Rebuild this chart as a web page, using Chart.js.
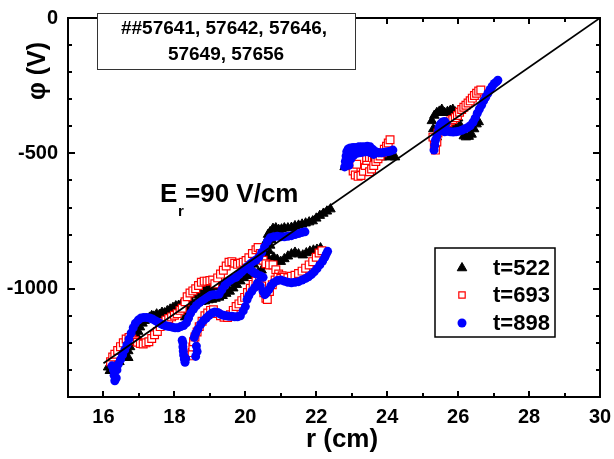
<!DOCTYPE html>
<html>
<head>
<meta charset="utf-8">
<script src="https://cdn.jsdelivr.net/npm/chart.js@4.4.1/dist/chart.umd.min.js"></script>
<style>
  html, body { margin: 0; padding: 0; background: #fff; }
  #wrap { width: 614px; height: 459px; }
</style>
</head>
<body>
<div id="wrap"><canvas id="chart" width="614" height="459"></canvas></div>
<script>
// r (cm) and phi (V)
const r522 = [
  16.13, 16.18, 16.25, 16.32, 16.40, 16.48, 16.55, 16.62, 16.70, 16.75,
  16.80, 16.86, 16.92, 16.98, 17.03, 17.10, 17.16, 17.22, 17.30, 17.36,
  17.42, 17.50, 17.58, 17.65, 17.72, 17.80, 17.88, 17.96, 18.04, 18.12,
  18.20, 18.28, 18.36, 18.44, 18.52, 18.60, 18.68, 18.76, 18.84, 18.92,
  19.00, 19.10, 19.20, 19.30, 19.40, 19.50, 19.60, 19.70, 19.80, 19.90,
  20.00, 20.08, 20.16, 20.24, 20.32, 20.40, 20.48, 20.55, 20.60, 20.64,
  20.70, 20.78, 20.86, 20.94, 21.02, 21.10, 21.20, 21.30, 21.40, 21.50,
  21.60, 21.70, 21.80, 21.90, 22.00, 22.10, 22.20, 22.30, 22.40, 20.58,
  20.62, 20.66, 20.70, 20.74, 20.66, 20.80, 20.90, 21.00, 21.10, 21.20,
  21.30, 21.40, 21.50, 21.62, 21.72, 21.82, 21.92, 22.02, 22.12, 18.30,
  18.38, 18.46, 18.56, 18.66, 18.76, 18.86, 18.96, 19.06, 19.16, 19.26,
  19.36, 19.46, 19.56, 19.66, 19.76, 19.86, 19.96, 20.06, 20.16, 20.26,
  20.36, 20.46, 16.45, 16.60, 16.70, 22.80, 22.86, 23.30, 23.37, 23.45,
  23.55, 23.65, 23.75, 23.85, 23.95, 24.05, 24.15, 24.22, 25.26, 25.30,
  25.33, 25.40, 25.47, 25.54, 25.62, 25.70, 25.78, 25.85, 25.92, 26.00,
  26.05, 26.10, 26.16, 26.22, 26.30, 26.38, 26.45, 26.52, 26.58, 25.50,
  25.70, 25.90, 25.40, 25.60
];
const phi522 = [
  -1290, -1303, -1280, -1262, -1250, -1240, -1236, -1222, -1230, -1215,
  -1200, -1190, -1170, -1158, -1142, -1128, -1118, -1112, -1106, -1100,
  -1102, -1094, -1096, -1088, -1090, -1082, -1076, -1070, -1064, -1062,
  -1056, -1058, -1050, -1040, -1024, -1018, -1012, -1008, -1005, -1002,
  -998, -994, -990, -986, -982, -978, -972, -966, -960, -952,
  -944, -935, -922, -910, -898, -886, -866, -845, -822, -800,
  -790, -778, -776, -782, -780, -776, -776, -774, -768, -766,
  -762, -758, -754, -750, -740, -730, -722, -714, -706, -900,
  -880, -860, -840, -820, -915, -884, -892, -900, -890, -880,
  -872, -866, -872, -876, -868, -862, -858, -855, -850, -1105,
  -1085, -1068, -1060, -1052, -1048, -1046, -1042, -1040, -1036, -1032,
  -1026, -1018, -1010, -998, -985, -972, -960, -952, -948, -944,
  -940, -932, -1270, -1255, -1255, -550, -545, -530, -528, -548,
  -530, -518, -512, -514, -512, -514, -512, -514, -380, -410,
  -360, -350, -345, -338, -350, -346, -342, -338, -348, -370,
  -395, -420, -436, -440, -438, -430, -410, -392, -384, -400,
  -395, -400, -440, -420
];

const r693 = [
  16.20, 16.26, 16.32, 16.40, 16.48, 16.56, 16.64, 16.72, 16.80, 16.88,
  16.96, 17.04, 17.12, 17.20, 17.28, 17.36, 17.44, 17.52, 17.60, 17.68,
  17.76, 17.84, 17.92, 18.00, 18.08, 18.16, 18.22, 18.30, 18.36, 18.44,
  18.52, 18.60, 18.68, 18.76, 18.84, 18.92, 19.00, 19.08, 19.14, 19.22,
  19.30, 19.38, 19.46, 19.54, 19.62, 19.70, 19.78, 19.86, 19.94, 20.02,
  20.10, 20.20, 20.30, 20.36, 20.42, 20.50, 20.58, 20.68, 20.78, 20.86,
  20.94, 21.04, 18.44, 18.50, 18.52, 18.54, 18.58, 18.64, 18.70, 18.78,
  18.86, 18.94, 19.02, 19.10, 19.20, 19.30, 19.40, 19.50, 19.58, 19.66,
  19.74, 19.82, 19.90, 19.98, 20.06, 20.14, 20.22, 20.30, 20.40, 20.46,
  20.52, 20.58, 20.62, 20.68, 20.76, 20.84, 20.92, 21.00, 21.10, 21.20,
  21.30, 21.40, 21.50, 21.60, 21.70, 21.80, 21.90, 22.00, 22.08, 22.16,
  22.98, 23.00, 23.04, 23.10, 23.18, 23.26, 23.33, 23.38, 23.42, 23.36,
  23.28, 23.20, 23.14, 23.50, 23.56, 23.62, 23.68, 23.74, 23.80, 23.86,
  23.92, 23.98, 24.03, 24.08, 25.29, 25.33, 25.36, 25.40, 25.43, 25.50,
  25.57, 25.64, 25.71, 25.78, 25.85, 25.92, 25.98, 26.04, 26.10, 26.16,
  26.22, 26.28, 26.34, 26.40, 26.46, 26.52, 26.58, 26.64
];
const phi693 = [
  -1270, -1252, -1242, -1228, -1214, -1200, -1186, -1180, -1186, -1192,
  -1198, -1202, -1204, -1200, -1196, -1184, -1170, -1158, -1140, -1126,
  -1116, -1110, -1104, -1098, -1092, -1080, -1072, -1048, -1030, -1016,
  -1008, -1000, -988, -976, -972, -972, -970, -968, -982, -960,
  -946, -932, -916, -902, -900, -906, -910, -906, -902, -896,
  -886, -870, -856, -848, -870, -895, -908, -912, -912, -930,
  -946, -952, -1248, -1236, -1215, -1196, -1178, -1160, -1140, -1120,
  -1100, -1090, -1080, -1078, -1092, -1100, -1105, -1106, -1096, -1080,
  -1066, -1056, -1044, -1032, -1014, -998, -984, -972, -958, -990,
  -1015, -1035, -1040, -1010, -985, -968, -958, -962, -958, -960,
  -954, -950, -944, -935, -924, -912, -900, -884, -868, -860,
  -520, -545, -565, -580, -585, -582, -566, -545, -526, -515,
  -515, -524, -540, -568, -558, -545, -530, -520, -510, -498,
  -485, -474, -462, -450, -440, -470, -488, -458, -425, -410,
  -400, -393, -386, -380, -375, -368, -360, -348, -338, -330,
  -322, -314, -306, -296, -286, -278, -270, -266
];

const r898 = [
  16.24, 16.28, 16.30, 16.32, 16.36, 16.38, 16.42, 16.48, 16.54, 16.60,
  16.66, 16.72, 16.78, 16.84, 16.90, 16.98, 17.06, 17.14, 17.22, 17.30,
  17.38, 17.46, 17.54, 17.62, 17.70, 17.78, 17.86, 17.94, 18.02, 18.10,
  18.18, 18.26, 18.34, 18.40, 18.46, 18.54, 18.62, 18.70, 18.78, 18.86,
  18.94, 19.02, 19.10, 19.18, 19.26, 19.34, 19.42, 19.50, 19.58, 19.66,
  19.74, 19.82, 19.90, 19.98, 20.06, 20.14, 20.22, 20.30, 20.38, 20.46,
  20.54, 20.62, 20.70, 20.80, 20.90, 21.00, 21.10, 21.20, 21.30, 21.40,
  21.50, 21.60, 21.68, 18.24, 18.24, 18.25, 18.26, 18.28, 18.30, 18.32,
  18.22, 18.60, 18.64, 18.62, 18.56, 18.60, 18.66, 18.74, 18.82, 18.90,
  18.98, 19.06, 19.14, 19.22, 19.30, 19.38, 19.46, 19.54, 19.62, 19.70,
  19.78, 19.86, 19.94, 20.00, 20.05, 20.10, 20.18, 20.26, 20.34, 20.42,
  20.50, 20.55, 20.60, 20.66, 20.72, 20.80, 20.90, 21.00, 21.10, 21.20,
  21.30, 21.40, 21.50, 21.60, 21.70, 21.78, 21.86, 21.94, 22.02, 22.10,
  22.18, 22.24, 22.28, 22.32, 20.16, 20.24, 20.32, 20.42, 20.50, 22.80,
  22.82, 22.84, 22.86, 22.90, 22.96, 23.04, 23.12, 23.20, 23.28, 23.36,
  23.44, 23.52, 23.60, 23.68, 23.76, 23.84, 23.92, 24.00, 24.08, 24.16,
  22.90, 22.98, 23.06, 23.14, 23.22, 23.30, 23.38, 23.46, 23.54, 23.62,
  22.92, 25.32, 25.34, 25.36, 25.40, 25.44, 25.46, 25.50, 25.56, 25.62,
  25.66, 25.60, 25.56, 25.62, 25.70, 25.78, 25.86, 25.94, 26.02, 26.10,
  26.18, 26.26, 26.34, 26.42, 26.48, 26.54, 26.60, 26.66, 26.72, 26.78,
  26.84, 26.90, 26.96, 27.02, 27.08, 27.12
];
const phi898 = [
  -1285, -1300, -1320, -1340, -1330, -1300, -1278, -1262, -1244, -1226,
  -1208, -1186, -1164, -1144, -1128, -1116, -1108, -1106, -1106, -1108,
  -1112, -1118, -1124, -1130, -1134, -1138, -1140, -1142, -1144, -1144,
  -1140, -1136, -1126, -1108, -1090, -1075, -1062, -1052, -1044, -1036,
  -1030, -1024, -1022, -1022, -1020, -1004, -988, -976, -968, -962,
  -958, -948, -938, -928, -918, -908, -900, -894, -884, -866,
  -846, -826, -812, -808, -806, -808, -808, -806, -804, -800,
  -796, -792, -790, -1200, -1215, -1230, -1245, -1260, -1272, -1258,
  -1190, -1250, -1232, -1212, -1180, -1165, -1150, -1132, -1118, -1108,
  -1098, -1090, -1086, -1088, -1094, -1098, -1100, -1102, -1102, -1104,
  -1104, -1100, -1082, -1066, -1040, -1025, -1010, -996, -980, -990,
  -1010, -1022, -1014, -1004, -990, -978, -970, -968, -972, -976,
  -978, -976, -974, -968, -962, -956, -948, -938, -926, -912,
  -898, -884, -872, -862, -932, -940, -946, -952, -958, -550,
  -530, -510, -494, -484, -480, -478, -478, -476, -476, -476,
  -474, -476, -486, -494, -498, -498, -496, -494, -492, -488,
  -528, -520, -506, -500, -498, -496, -494, -494, -498, -504,
  -544, -488, -470, -452, -436, -420, -404, -392, -384, -382,
  -390, -405, -416, -420, -418, -420, -421, -420, -418, -415,
  -410, -405, -398, -385, -370, -352, -336, -322, -306, -292,
  -278, -264, -252, -242, -236, -230
];

// linear fit, E_r = 90 V/cm
const fitR = [16, 30];
const fitPhi = [-1275, 0];

const seriesNames = ['t=522', 't=693', 't=898'];
const shotText = ['##57641, 57642, 57646,', '57649, 57656'];

const FONT = "'Liberation Sans', Arial, Helvetica, sans-serif";

function pts(xs, ys) {
  return xs.map((x, i) => ({ x: x, y: ys[i] }));
}

const decorations = {
  id: 'decorations',
  afterDraw(chart) {
    const ctx = chart.ctx;
    const a = chart.chartArea;
    const xs = chart.scales.x;
    const ys = chart.scales.y;
    ctx.save();

    // inward ticks on all four sides
    ctx.strokeStyle = '#000';
    ctx.lineWidth = 2;
    ctx.beginPath();
    xs.ticks.forEach(t => {
      const px = Math.round(xs.getPixelForValue(t.value));
      const len = t.value % 2 === 0 ? 6 : 4;
      ctx.moveTo(px, a.bottom); ctx.lineTo(px, a.bottom - len);
      ctx.moveTo(px, a.top); ctx.lineTo(px, a.top + len);
    });
    ys.ticks.forEach(t => {
      const py = Math.round(ys.getPixelForValue(t.value));
      const len = t.value % 500 === 0 ? 7 : 4;
      ctx.moveTo(a.left, py); ctx.lineTo(a.left + len, py);
      ctx.moveTo(a.right, py); ctx.lineTo(a.right - len, py);
    });
    ctx.stroke();
    ctx.strokeRect(a.left, a.top, a.right - a.left, a.bottom - a.top);

    // shot numbers box
    ctx.fillStyle = '#fff';
    ctx.fillRect(97, 13, 258, 56);
    ctx.strokeStyle = '#333';
    ctx.lineWidth = 1;
    ctx.strokeRect(97.5, 13.5, 258, 56);
    ctx.fillStyle = '#000';
    ctx.font = 'bold 19px ' + FONT;
    ctx.textAlign = 'center';
    ctx.textBaseline = 'alphabetic';
    ctx.fillText(shotText[0], 224, 34);
    ctx.fillText(shotText[1], 226, 60);

    // E_r label
    ctx.textAlign = 'left';
    ctx.font = 'bold 26px ' + FONT;
    ctx.fillText('E', 160, 202);
    ctx.font = 'bold 15px ' + FONT;
    ctx.fillText('r', 178, 216);
    ctx.font = 'bold 26px ' + FONT;
    ctx.fillText('=90 V/cm', 185, 202);

    // axis titles
    ctx.textAlign = 'center';
    ctx.font = 'bold 26px ' + FONT;
    ctx.fillText('r (cm)', 342, 447);
    ctx.save();
    ctx.translate(45, 71);
    ctx.rotate(-Math.PI / 2);
    ctx.font = 'bold 25px ' + FONT;
    ctx.fillText('\u03c6 (V)', 0, 0);
    ctx.restore();

    // legend
    ctx.fillStyle = '#fff';
    ctx.fillRect(435, 248, 120, 89);
    ctx.strokeStyle = '#000';
    ctx.lineWidth = 1.5;
    ctx.strokeRect(435, 248, 120, 89);
    const rows = [268, 295, 323];
    const legendRadius = [5.5, 4.5, 4.5];
    chart.data.datasets.slice(0, 3).forEach((ds, i) => {
      ctx.fillStyle = ds.backgroundColor;
      ctx.strokeStyle = ds.borderColor;
      ctx.lineWidth = ds.borderWidth;
      Chart.helpers.drawPoint(ctx, {
        pointStyle: ds.pointStyle, radius: legendRadius[i], rotation: 0, borderWidth: ds.borderWidth
      }, 462, rows[i]);
      ctx.fillStyle = '#000';
      ctx.font = 'bold 22px ' + FONT;
      ctx.textAlign = 'left';
      ctx.textBaseline = 'middle';
      ctx.fillText(ds.label, 493, rows[i] + 1);
    });
    ctx.restore();
  }
};

const tickFont = { family: FONT, weight: 'bold', size: 20 };

new Chart(document.getElementById('chart'), {
  type: 'scatter',
  data: {
    datasets: [
      {
        label: seriesNames[0],
        data: pts(r522, phi522),
        pointStyle: 'triangle',
        pointRadius: 5.5,
        backgroundColor: '#000000',
        borderColor: '#000000',
        borderWidth: 1,
        order: 3
      },
      {
        label: seriesNames[1],
        data: pts(r693, phi693),
        pointStyle: 'rect',
        pointRadius: 5.5,
        backgroundColor: '#ffffff',
        borderColor: '#ff0000',
        borderWidth: 1.2,
        order: 2
      },
      {
        label: seriesNames[2],
        data: pts(r898, phi898),
        pointStyle: 'circle',
        pointRadius: 4.5,
        backgroundColor: '#0000ff',
        borderColor: '#0000ff',
        borderWidth: 0,
        order: 1
      },
      {
        label: 'fit',
        data: pts(fitR, fitPhi),
        showLine: true,
        pointRadius: 0,
        borderColor: '#000000',
        borderWidth: 1.8,
        order: 0
      }
    ]
  },
  options: {
    responsive: false,
    devicePixelRatio: 1,
    animation: false,
    events: [],
    layout: { padding: { top: 18, right: 14, left: 0, bottom: 0 } },
    plugins: {
      legend: { display: false },
      tooltip: { enabled: false }
    },
    scales: {
      x: {
        type: 'linear',
        min: 15,
        max: 30,
        grid: { display: false, drawTicks: false },
        border: { display: false },
        ticks: {
          stepSize: 1,
          autoSkip: false,
          maxRotation: 0,
          padding: 8,
          color: '#000',
          font: tickFont,
          callback: v => (v % 2 === 0 ? v : '')
        },
        afterFit: s => { s.height = 62; s.paddingLeft = 0; s.paddingRight = 0; }
      },
      y: {
        type: 'linear',
        min: -1400,
        max: 0,
        grid: { display: false, drawTicks: false },
        border: { display: false },
        ticks: {
          stepSize: 100,
          autoSkip: false,
          padding: 10,
          color: '#000',
          font: tickFont,
          callback: v => (v % 500 === 0 ? v : '')
        },
        afterFit: s => { s.width = 68; s.paddingTop = 0; s.paddingBottom = 0; }
      }
    }
  },
  plugins: [decorations]
});
</script>
</body>
</html>
